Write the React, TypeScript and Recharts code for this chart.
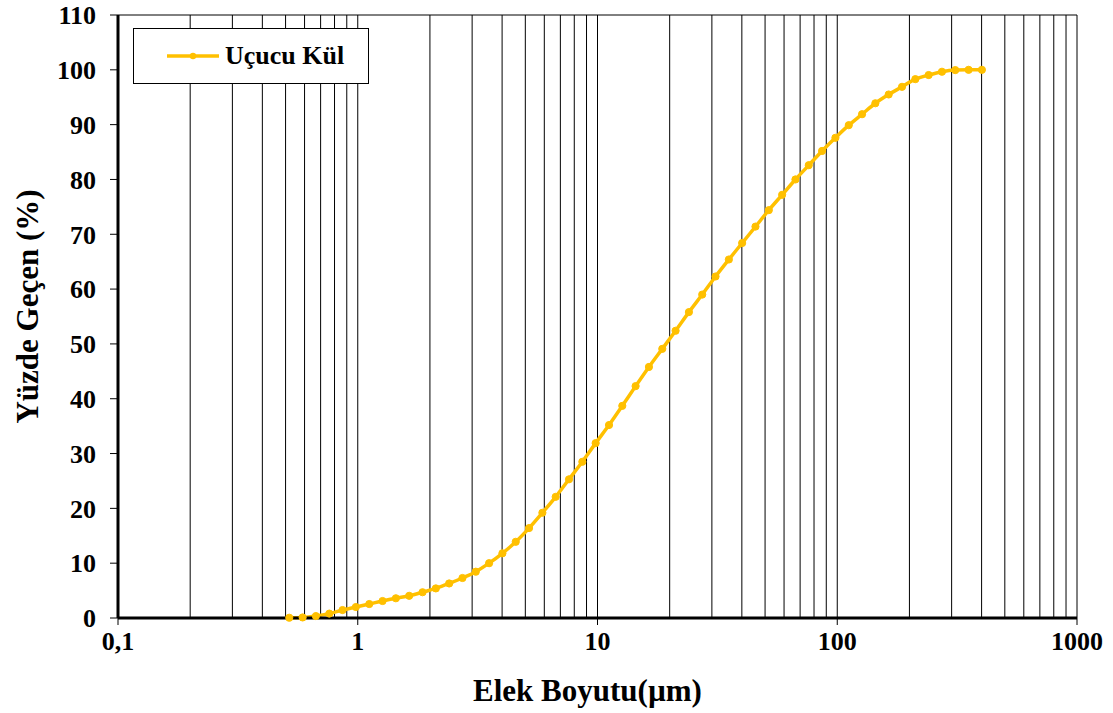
import React from 'react';
import { LineChart, Line, XAxis, YAxis, CartesianGrid, Label } from 'recharts';

// particle size (µm), log spaced
const sizes = [
  0.518, 0.589, 0.669, 0.761, 0.864, 0.982, 1.117, 1.269, 1.442, 1.639,
  1.863, 2.117, 2.406, 2.734, 3.107, 3.531, 4.012, 4.56, 5.182, 5.89,
  6.693, 7.606, 8.645, 9.824, 11.17, 12.69, 14.42, 16.39, 18.63, 21.17,
  24.06, 27.34, 31.07, 35.31, 40.12, 45.6, 51.82, 58.9, 66.93, 76.06,
  86.45, 98.24, 111.7, 126.9, 144.2, 163.9, 186.3, 211.7, 240.6, 273.4,
  310.7, 353.1, 401.2,
];
// cumulative % passing
const passing = [
  0.05, 0.1, 0.35, 0.8, 1.45, 2.0, 2.55, 3.1, 3.6, 4.05,
  4.7, 5.4, 6.3, 7.3, 8.45, 10.0, 11.8, 13.9, 16.4, 19.2,
  22.1, 25.3, 28.5, 31.9, 35.2, 38.7, 42.3, 45.8, 49.1, 52.4,
  55.8, 59.0, 62.3, 65.4, 68.4, 71.4, 74.4, 77.2, 80.0, 82.6,
  85.2, 87.6, 89.9, 91.9, 93.9, 95.5, 96.9, 98.3, 99.05, 99.65,
  99.95, 100, 100,
];
const xTicks = [0.1, 1, 10, 100, 1000];
const yTicks = [0, 10, 20, 30, 40, 50, 60, 70, 80, 90, 100, 110];
const gridX = [
  0.2, 0.3, 0.4, 0.5, 0.6, 0.7, 0.8, 0.9, 1,
  2, 3, 4, 5, 6, 7, 8, 9, 10,
  20, 30, 40, 50, 60, 70, 80, 90, 100,
  200, 300, 400, 500, 600, 700, 800, 900, 1000,
];
const seriesName = 'Uçucu Kül';
const xTitle = 'Elek Boyutu(µm)';
const yTitle = 'Yüzde Geçen (%)';

const data = sizes.map((s, i) => ({ size: s, pass: passing[i] }));

const FONT = '"Liberation Serif", "Times New Roman", serif';
const GOLD = '#FFC000';

const fmt = (v: number) => String(v).replace('.', ',');

const tickStyle = { fill: '#000', fontSize: 26, fontWeight: 'bold', fontFamily: FONT };

export default function App() {
  return (
    <div style={{ position: 'absolute', left: 0, top: 0, width: 1113, height: 713, background: '#fff' }}>
      <LineChart width={1113} height={713} data={data} margin={{ top: 15, right: 36, left: 0, bottom: 0 }}>
        <CartesianGrid horizontal={true} horizontalValues={[110]} verticalValues={gridX} stroke="#000" strokeWidth={1} />
        <XAxis
          dataKey="size"
          type="number"
          scale="log"
          domain={[0.1, 1000]}
          allowDataOverflow
          ticks={xTicks}
          interval={0}
          height={95}
          tickFormatter={fmt}
          tick={tickStyle}
          tickSize={7}
          tickMargin={7}
          axisLine={{ stroke: '#000', strokeWidth: 3 }}
          tickLine={{ stroke: '#000', strokeWidth: 1 }}
        >
          <Label
            content={({ viewBox }: any) => (
              <text
                x={viewBox.x + viewBox.width / 2 - 10}
                y={viewBox.y + 83}
                textAnchor="middle"
                style={{ fontFamily: FONT, fontSize: 31, fontWeight: 'bold', fill: '#000' }}
              >
                {xTitle}
              </text>
            )}
          />
        </XAxis>
        <YAxis
          type="number"
          domain={[0, 110]}
          ticks={yTicks}
          interval={0}
          width={118}
          tick={tickStyle}
          tickSize={8}
          tickMargin={14}
          axisLine={{ stroke: '#000', strokeWidth: 3 }}
          tickLine={{ stroke: '#000', strokeWidth: 1 }}
        >
          <Label
            content={({ viewBox }: any) => {
              const cx = viewBox.x + 27;
              const cy = viewBox.y + viewBox.height / 2 - 10;
              return (
                <text
                  x={cx}
                  y={cy}
                  transform={`rotate(-90 ${cx} ${cy})`}
                  textAnchor="middle"
                  dominantBaseline="central"
                  style={{ fontFamily: FONT, fontSize: 31, fontWeight: 'bold', fill: '#000' }}
                >
                  {yTitle}
                </text>
              );
            }}
          />
        </YAxis>
        <Line
          dataKey="pass"
          name={seriesName}
          type="monotone"
          stroke={GOLD}
          strokeWidth={3.5}
          dot={{ r: 3.6, fill: GOLD, stroke: GOLD, strokeWidth: 1 }}
          isAnimationActive={false}
        />
      </LineChart>
      {/* legend box */}
      <div
        style={{
          position: 'absolute', left: 133, top: 28, width: 236, height: 56, boxSizing: 'border-box',
          border: '1px solid #000', background: '#fff', display: 'flex', alignItems: 'center',
        }}
      >
        <svg width={54} height={10} style={{ marginLeft: 32 }}>
          <line x1={1} y1={5} x2={53} y2={5} stroke={GOLD} strokeWidth={3.5} />
          <circle cx={27} cy={5} r={3.2} fill={GOLD} />
        </svg>
        <span style={{ marginLeft: 5, fontFamily: FONT, fontSize: 26, fontWeight: 'bold', color: '#000' }}>{seriesName}</span>
      </div>
    </div>
  );
}
